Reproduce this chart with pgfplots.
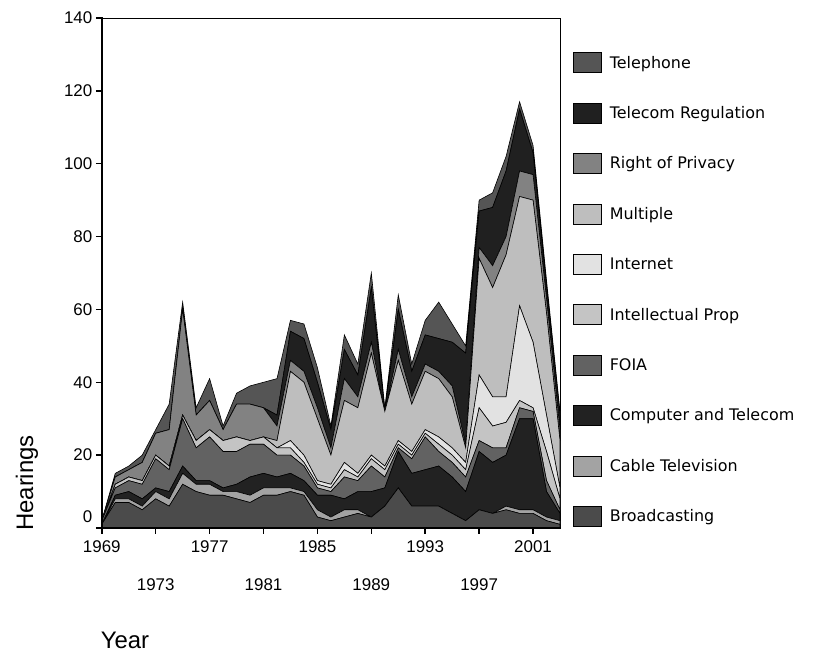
\documentclass[border=0pt]{standalone}
\usepackage{pgfplots}
\pgfplotsset{compat=1.18}
\usepackage{pgfplotstable}
\usepackage{fontspec}
\setmainfont{Liberation Sans}
\newfontfamily\legfont{DejaVu Sans}

\definecolor{cBroad}{HTML}{4B4B4B}
\definecolor{cCable}{HTML}{A3A3A3}
\definecolor{cComp}{HTML}{222222}
\definecolor{cFOIA}{HTML}{626262}
\definecolor{cIP}{HTML}{C4C4C4}
\definecolor{cNet}{HTML}{E2E2E2}
\definecolor{cMult}{HTML}{BEBEBE}
\definecolor{cPriv}{HTML}{828282}
\definecolor{cTReg}{HTML}{202020}
\definecolor{cTel}{HTML}{555555}

\pgfplotstableread{
year B C CT F IP In M RP TR T
1969 1 0 0 1 0 0 0 0 0 0
1970 7 1 1 2 1 0 0 2 0 1
1971 7 1 2 3 1 0 0 2 0 1
1972 5 1 2 4 1 0 0 5 0 2
1973 8 2 1 8 1 0 0 6 0 1
1974 6 2 2 6 1 0 0 10 0 7
1975 12 3 2 13 1 0 0 29 0 2
1976 10 2 1 9 2 0 0 7 0 2
1977 9 3 1 12 2 0 0 8 0 6
1978 9 1 1 10 3 0 0 3 0 1
1979 8 2 2 9 4 0 0 9 0 3
1980 7 2 5 9 1 0 0 10 0 5
1981 9 2 4 8 2 0 0 8 0 7
1982 9 2 3 6 2 0 2 4 3 10
1983 10 1 4 5 2 2 19 3 8 3
1984 9 1 3 4 1 2 20 3 9 4
1985 3 2 4 2 1 1 17 3 7 4
1986 2 1 6 1 1 1 8 2 5 1
1987 3 2 3 6 2 2 17 6 8 4
1988 4 1 5 3 1 1 18 3 6 3
1989 3 0 7 7 2 1 28 3 15 4
1990 6 0 5 3 2 1 15 0 0 1
1991 11 0 10 1 1 1 22 3 11 4
1992 6 0 9 4 1 1 13 2 7 2
1993 6 0 10 9 1 1 16 2 8 4
1994 6 0 11 4 2 2 16 2 9 10
1995 4 0 10 4 2 2 14 3 12 5
1996 2 0 8 4 2 2 4 1 25 2
1997 5 0 16 3 9 9 32 3 10 3
1998 4 0 14 4 6 8 30 6 16 4
1999 5 1 14 2 7 7 39 5 18 4
2000 4 1 25 3 2 26 30 7 17 2
2001 4 1 25 2 1 18 39 7 6 2
2002 2 1 7 3 8 10 28 4 3 2
2003 1 1 2 1 3 3 13 3 4 1
}\data

\begin{document}
\begin{tikzpicture}
\path[use as bounding box] (0,0) rectangle (816bp,654bp);
\begin{axis}[
  at={(101.8bp,126bp)}, anchor=south west,
  scale only axis, width=458.2bp, height=510bp,
  xmin=1969, xmax=2003, ymin=0, ymax=140,
  stack plots=y,
  axis line style={line width=0.8bp},
  xtick={1969,1977,1985,1993,2001},
  x tick label style={yshift=-3bp},
  extra x ticks={1973,1981,1989,1997},
  extra x tick style={x tick label style={yshift=-38bp}},
  ytick={20,40,...,140},
  extra y ticks={0},
  extra y tick style={y tick label style={yshift=11bp}},
  xtick pos=bottom, ytick pos=left,
  tick align=outside,
  major tick length=6bp,
  tick style={line width=1.5bp, black},
  /pgf/number format/1000 sep={},
  /pgf/number format/assume math mode=true,
  tick label style={font=\fontsize{17}{17}\selectfont},
  legend style={at={(1.028,0.933)}, anchor=north west, draw=none, fill=none,
    font=\legfont\fontsize{16}{16}\selectfont, row sep=29.6bp, column sep=6bp,
    inner sep=0pt, nodes={inner sep=2bp}},
  legend cell align=left,
  reverse legend,
  legend image code/.code={\draw[#1,draw=black,line width=0.8bp] (0bp,-10bp) rectangle (28bp,10bp);},
  every axis plot/.append style={draw=black, line width=0.6bp},
  after end axis/.code={\draw[line width=2bp, line cap=rect] (rel axis cs:0,1) -- (rel axis cs:0,0) -- (rel axis cs:1,0);},
]
\addplot[fill=cBroad] table[x=year,y=B]{\data} \closedcycle;
\addlegendentry{Broadcasting}
\addplot[fill=cCable] table[x=year,y=C]{\data} \closedcycle;
\addlegendentry{Cable Television}
\addplot[fill=cComp] table[x=year,y=CT]{\data} \closedcycle;
\addlegendentry{Computer and Telecom}
\addplot[fill=cFOIA] table[x=year,y=F]{\data} \closedcycle;
\addlegendentry{FOIA}
\addplot[fill=cIP] table[x=year,y=IP]{\data} \closedcycle;
\addlegendentry{Intellectual Prop}
\addplot[fill=cNet] table[x=year,y=In]{\data} \closedcycle;
\addlegendentry{Internet}
\addplot[fill=cMult] table[x=year,y=M]{\data} \closedcycle;
\addlegendentry{Multiple}
\addplot[fill=cPriv] table[x=year,y=RP]{\data} \closedcycle;
\addlegendentry{Right of Privacy}
\addplot[fill=cTReg] table[x=year,y=TR]{\data} \closedcycle;
\addlegendentry{Telecom Regulation}
\addplot[fill=cTel] table[x=year,y=T]{\data} \closedcycle;
\addlegendentry{Telephone}
\end{axis}
\node[rotate=90, font=\fontsize{24}{24}\selectfont] at (27bp,171bp) {Hearings};
\node[font=\fontsize{24}{24}\selectfont] at (125bp,14bp) {Year};
\end{tikzpicture}
\end{document}
